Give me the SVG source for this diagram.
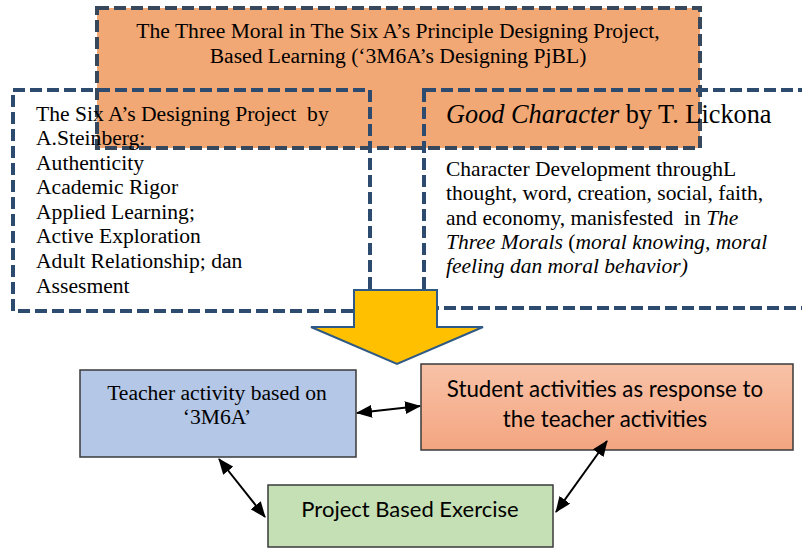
<svg xmlns="http://www.w3.org/2000/svg" width="802" height="548" viewBox="0 0 802 548">
  <style>
    .serif { font-family: "Liberation Serif", "Times New Roman", serif; fill: #000; }
    .sans { font-family: Lato, "Open Sans", "Liberation Sans", sans-serif; fill: #000; }
    .dash { fill: none; stroke: #2c4b6f; stroke-width: 4; stroke-dasharray: 12 5; }
    .box { stroke: #3a3a3a; stroke-width: 1.5; }
    .link { stroke: #000; stroke-width: 2; fill: none; marker-start: url(#head); marker-end: url(#head); }
  </style>
  <defs>
    <linearGradient id="peach" x1="0" y1="0" x2="0" y2="1">
      <stop offset="0" stop-color="#f8c2a7"/>
      <stop offset="1" stop-color="#f4a580"/>
    </linearGradient>
    <!-- filled triangular head, sized in user units -->
    <marker id="head" viewBox="0 0 16 13" refX="15" refY="6.5" markerUnits="userSpaceOnUse" markerWidth="16" markerHeight="13" orient="auto-start-reverse">
      <path d="M0,0 L16,6.5 L0,13 Z" fill="#000"/>
    </marker>
  </defs>

  <!-- Title block -->
  <g id="title">
    <rect x="97" y="8" width="603" height="140" fill="#f2a874" stroke="#37475c" stroke-width="4" stroke-dasharray="12 5"/>
    <text class="serif" font-size="21.6" text-anchor="middle" x="398" y="38">The Three Moral in The Six A’s Principle Designing Project,</text>
    <text class="serif" font-size="21.6" text-anchor="middle" x="398" y="63">Based Learning (‘3M6A’s Designing PjBL)</text>
  </g>

  <!-- Six A's panel -->
  <g id="six-a">
    <rect class="dash" x="13" y="90" width="357" height="221"/>
    <g class="serif" font-size="21.6">
      <text x="36" y="121" xml:space="preserve">The Six A’s Designing Project  by</text>
      <text x="36" y="145">A.Steinberg:</text>
      <text x="36" y="170">Authenticity</text>
      <text x="36" y="194">Academic Rigor</text>
      <text x="36" y="219">Applied Learning;</text>
      <text x="36" y="243">Active Exploration</text>
      <text x="36" y="268">Adult Relationship; dan</text>
      <text x="36" y="293">Assesment</text>
    </g>
  </g>

  <!-- Good Character panel -->
  <g id="good-character">
    <rect class="dash" x="424" y="90" width="400" height="218"/>
    <text class="serif" font-size="26.3" x="446" y="123"><tspan font-style="italic">Good Character</tspan> by T. Lickona</text>
    <g class="serif" font-size="21.5">
      <text x="446" y="176">Character Development throughL</text>
      <text x="446" y="200">thought, word, creation, social, faith,</text>
      <text x="446" y="225" xml:space="preserve">and economy, manisfested  in <tspan font-style="italic">The</tspan></text>
      <text x="446" y="249"><tspan font-style="italic">Three Morals</tspan> (<tspan font-style="italic">moral knowing, moral</tspan></text>
      <text x="446" y="273" font-style="italic">feeling dan moral behavior)</text>
    </g>
  </g>

  <!-- Block arrow down -->
  <g id="flow-arrow">
    <path d="M354,290 L437,290 L437,327 L483,327 L397,364 L311,327 L354,327 Z" fill="#ffc000" stroke="#2f5a85" stroke-width="2" stroke-linejoin="miter"/>
  </g>

  <g id="teacher">
    <rect class="box" x="80" y="370" width="276" height="87" fill="#b4c7e7"/>
    <text class="serif" font-size="21.6" text-anchor="middle" x="217" y="400">Teacher activity based on</text>
    <text class="serif" font-size="21.6" text-anchor="middle" x="217" y="424">‘3M6A’</text>
  </g>

  <g id="student">
    <rect class="box" x="421" y="364" width="372" height="86" fill="url(#peach)"/>
    <text class="sans" font-size="22.3" text-anchor="middle" x="605" y="397">Student activities as response to</text>
    <text class="sans" font-size="22.3" text-anchor="middle" x="605" y="427">the teacher activities</text>
  </g>

  <g id="project">
    <rect class="box" x="268" y="485" width="285" height="62" fill="#c5e0b4"/>
    <text class="sans" font-size="22" text-anchor="middle" x="410" y="517">Project Based Exercise</text>
  </g>

  <!-- Connectors -->
  <g id="connectors">
    <line class="link" x1="357" y1="413" x2="420" y2="406"/>
    <line class="link" x1="219" y1="459" x2="265" y2="517"/>
    <line class="link" x1="607" y1="441" x2="556" y2="512"/>
  </g>
</svg>
